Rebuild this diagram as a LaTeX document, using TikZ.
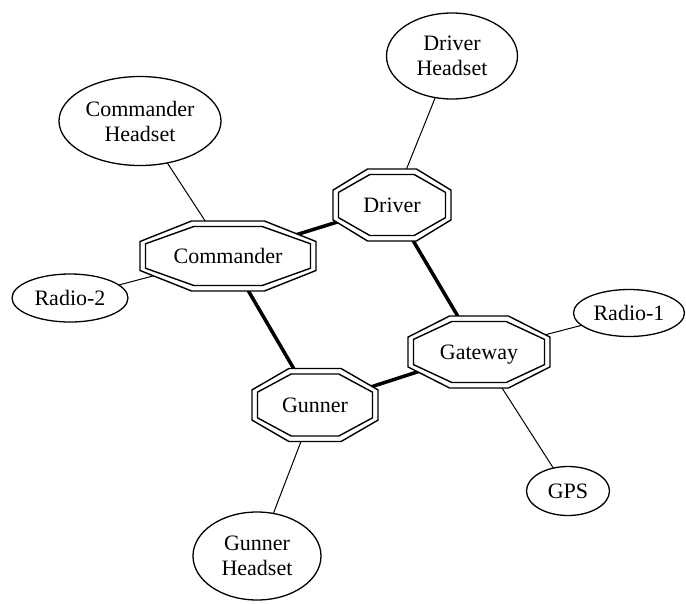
\documentclass[tikz,border=0pt]{standalone}
\usepackage{fontspec}
\setmainfont{Liberation Serif}
\usetikzlibrary{shapes.geometric}
\pgfdeclarelayer{background}
\pgfsetlayers{background,main}
\newcommand{\dbloct}[6]{%
  \pgfmathsetmacro{\oa}{#4/2}\pgfmathsetmacro{\ob}{#5/2}%
  \pgfmathsetmacro{\oc}{0.414*\oa}\pgfmathsetmacro{\od}{0.414*\ob}%
  \pgfmathsetmacro{\ia}{\oa-5.5}\pgfmathsetmacro{\ib}{\ob-5.5}%
  \pgfmathsetmacro{\ic}{0.414*\ia}\pgfmathsetmacro{\id}{0.414*\ib}%
  \begin{scope}[shift={(#2,#3)}]
    \draw[octline,fill=white] (\oa,\od) -- (\oc,\ob) -- (-\oc,\ob) -- (-\oa,\od) -- (-\oa,-\od) -- (-\oc,-\ob) -- (\oc,-\ob) -- (\oa,-\od) -- cycle;
    \draw[octline] (\ia,\id) -- (\ic,\ib) -- (-\ic,\ib) -- (-\ia,\id) -- (-\ia,-\id) -- (-\ic,-\ib) -- (\ic,-\ib) -- (\ia,-\id) -- cycle;
  \end{scope}
  \node[octnode] (#1) at (#2,#3) {#6};%
}
\begin{document}
\begin{tikzpicture}[x=1pt,y=-1pt,
  every node/.style={font=\fontsize{22}{25}\selectfont},
  octline/.style={line width=1.4pt},
  octnode/.style={inner sep=0pt,text height=16pt,text depth=1.5pt},
  ell/.style={ellipse,draw,line width=1.3pt,fill=white,inner sep=0pt,align=center},
  thin edge/.style={line width=1pt},
  thick edge/.style={line width=3.5pt}]
\useasboundingbox (0,0) rectangle (686,603);
\dbloct{cmd}{228}{256}{176}{70}{Commander}
\dbloct{drv}{392}{205}{118}{72}{Driver}
\dbloct{gw}{479}{352}{142}{72}{Gateway}
\dbloct{gun}{315}{405}{126}{73}{Gunner}
\node[ell,minimum width=131,minimum height=86] (dh) at (452,56) {Driver\\Headset};
\node[ell,minimum width=162,minimum height=89] (ch) at (140,121) {Commander\\Headset};
\node[ell,minimum width=116,minimum height=48] (r2) at (70,298) {Radio-2};
\node[ell,minimum width=111,minimum height=47] (r1) at (629,313) {Radio-1};
\node[ell,minimum width=83,minimum height=49] (gps) at (568,491) {GPS};
\node[ell,minimum width=128,minimum height=88] (gh) at (257,556) {Gunner\\Headset};
\begin{pgfonlayer}{background}
\draw[thin edge] (ch.center) -- (cmd.center);
\draw[thin edge] (r2.center) -- (cmd.center);
\draw[thin edge] (dh.center) -- (drv.center);
\draw[thin edge] (gw.center) -- (r1.center);
\draw[thin edge] (gw.center) -- (gps.center);
\draw[thin edge] (gun.center) -- (gh.center);
\draw[thick edge] (cmd.center) -- (drv.center);
\draw[thick edge] (drv.center) -- (gw.center);
\draw[thick edge] (cmd.center) -- (gun.center);
\draw[thick edge] (gun.center) -- (gw.center);
\end{pgfonlayer}
\end{tikzpicture}
\end{document}
